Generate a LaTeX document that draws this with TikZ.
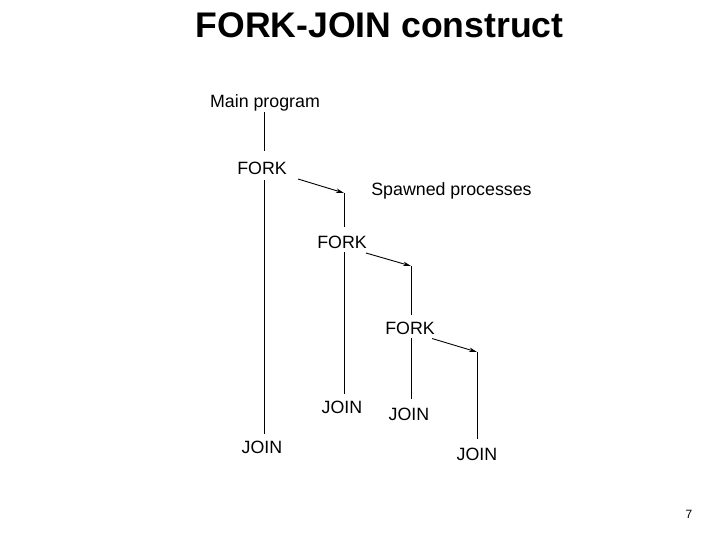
\documentclass[tikz,border=0pt]{standalone}
\usepackage{fontspec}
\setmainfont{Liberation Sans}
\usetikzlibrary{arrows.meta,positioning}

\tikzset{
    lbl/.style={inner sep=0pt, text height=12.6pt, text depth=0pt, font=\fontsize{17.8}{20}\selectfont},
    wire/.style={draw, line width=0.9pt},
    spawn/.style={draw, line width=0.9pt, -{Stealth[length=8pt,width=4.5pt]}}
}

\begin{document}
\begin{tikzpicture}[x=1pt, y=-1pt]
    \useasboundingbox (0,0) rectangle (720,540);
    \node[inner sep=0pt, font=\fontsize{35.6}{40}\selectfont\bfseries] (title) at (379.5,25.5) {FORK-JOIN construct};

    \node[lbl] (main) at (265,101) {Main program};
    \node[lbl] (fork1) at (262,168) {FORK};
    \node[lbl] (join1) at (262,447) {JOIN};
    \node[lbl] (spawned) at (451.5,189) {Spawned processes};
    \node[lbl] (fork2) at (342,242.3) {FORK};
    \node[lbl] (join2) at (342,407) {JOIN};
    \node[lbl] (fork3) at (410,328.3) {FORK};
    \node[lbl] (join3) at (409,413.7) {JOIN};
    \node[lbl] (join4) at (477,453.7) {JOIN};
    \node[inner sep=0pt, font=\fontsize{12}{14}\selectfont] (page) at (689,514) {7};

    % x of the main line, tops of the spawned processes, starts of the spawn arrows
    \coordinate (mx) at (264,0);
    \coordinate (t2) at (344,193);
    \coordinate (t3) at (411,266);
    \coordinate (t4) at (477,352);
    \coordinate (s1) at (298,179);
    \coordinate (s2) at (366,253);
    \coordinate (s3) at (432,338.5);

    % main program
    \draw[wire, shorten <=5pt, shorten >=10pt] (main.south -| mx) -- (fork1.north -| mx);
    \draw[wire, shorten <=6pt, shorten >=7pt] (fork1.south -| mx) -- (join1.north -| mx);

    % spawned processes
    \draw[spawn] (s1) -- (t2);
    \draw[wire, shorten >=9pt] (t2) -- (t2 |- fork2.north);
    \draw[wire, shorten <=3pt, shorten >=7pt] (t2 |- fork2.south) -- (t2 |- join2.north);
    \draw[spawn] (s2) -- (t3);
    \draw[wire, shorten >=7pt] (t3) -- (t3 |- fork3.north);
    \draw[wire, shorten <=3pt, shorten >=8pt] (t3 |- fork3.south) -- (t3 |- join3.north);
    \draw[spawn] (s3) -- (t4);
    \draw[wire, shorten >=8pt] (t4) -- (t4 |- join4.north);
\end{tikzpicture}
\end{document}
